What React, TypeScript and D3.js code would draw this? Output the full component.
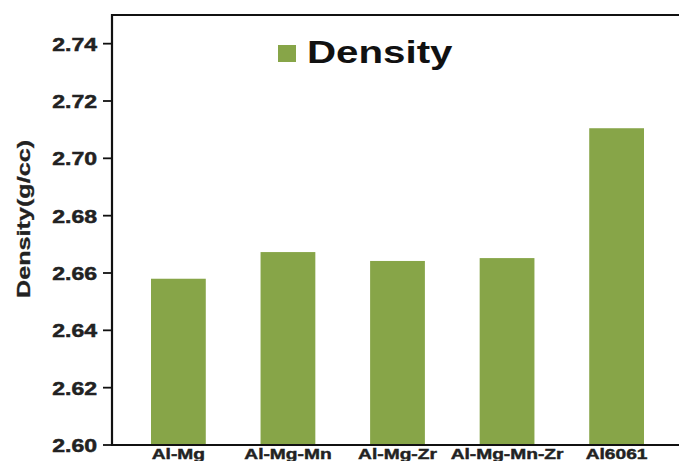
import React from "react";
import * as d3 from "d3";

const categories = ["Al-Mg", "Al-Mg-Mn", "Al-Mg-Zr", "Al-Mg-Mn-Zr", "Al6061"];
const densityValues = [2.658, 2.6673, 2.6642, 2.6652, 2.7105];
const yTicks = [2.6, 2.62, 2.64, 2.66, 2.68, 2.7, 2.72, 2.74];
const seriesName = "Density";
const yTitle = "Density(g/cc)";

const W = 679;
const H = 461;
const BAR = "#87a548";
const FONT = "'Liberation Sans', Arial, sans-serif";

export default function App() {
  const left = 112, top = 15, bottom = 445, right = 683;
  const x = d3.scaleBand<string>().domain(categories).range([left, right]).paddingInner(0.5).paddingOuter(0.356);
  const y = d3.scaleLinear().domain([2.6, 2.75]).range([bottom, top]);
  return (
    <svg width={W} height={H} style={{ position: "absolute", left: 0, top: 0, background: "#fff" }} fontFamily={FONT}>
      {categories.map((c, i) => (
        <rect key={c} x={x(c)} y={y(densityValues[i])} width={x.bandwidth()} height={bottom - y(densityValues[i])} fill={BAR} />
      ))}
      {/* frame */}
      <line x1={left} x2={left} y1={top - 1} y2={bottom + 1} stroke="#111" strokeWidth={2.2} />
      <line x1={left - 1} x2={W + 5} y1={top} y2={top} stroke="#111" strokeWidth={2.2} />
      <line x1={left - 1} x2={W + 5} y1={bottom} y2={bottom} stroke="#111" strokeWidth={2.2} />
      {yTicks.map((t) => (
        <g key={t}>
          <line x1={left - 9} x2={left} y1={y(t)} y2={y(t)} stroke="#111" strokeWidth={1.8} />
          <text transform={`translate(97,${y(t) + 7}) scale(1.28,1)`} textAnchor="end" fontSize={18} fontWeight="bold" fill="#222" stroke="#222" strokeWidth={0.5}>
            {d3.format(".2f")(t)}
          </text>
        </g>
      ))}
      {categories.map((c) => (
        <text key={c} transform={`translate(${(x(c) as number) + x.bandwidth() / 2},459) scale(1.37,1)`} textAnchor="middle" fontSize={14} fontWeight="bold" fill="#222" stroke="#222" strokeWidth={0.4}>
          {c}
        </text>
      ))}
      <text transform="translate(30,219) rotate(-90) scale(1.4,1)" textAnchor="middle" fontSize={18} fontWeight="bold" fill="#222" stroke="#222" strokeWidth={0.3}>
        {yTitle}
      </text>
      <rect x={278} y={45} width={18} height={17} fill={BAR} />
      <text transform="translate(307,63) scale(1.3,1)" fontSize={31} fontWeight="bold" fill="#111">
        {seriesName}
      </text>
    </svg>
  );
}
